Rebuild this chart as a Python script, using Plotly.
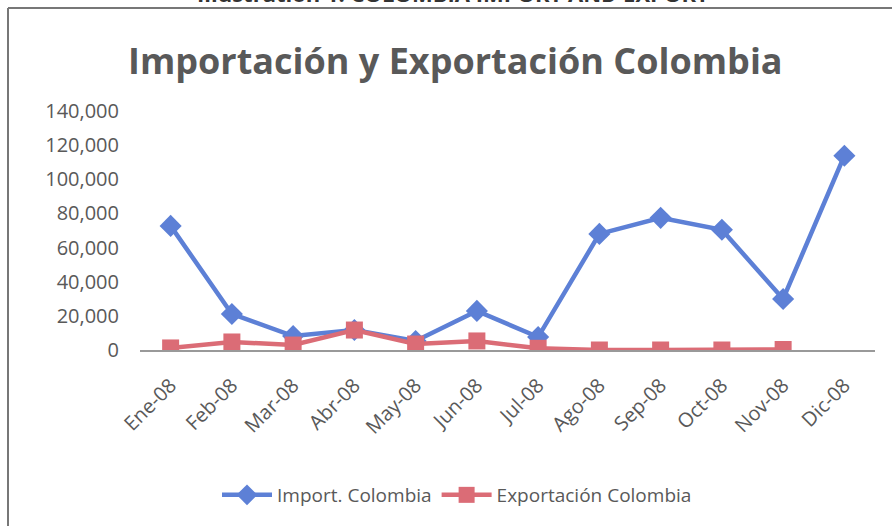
import plotly.graph_objects as go

months = ["Ene-08", "Feb-08", "Mar-08", "Abr-08", "May-08", "Jun-08",
          "Jul-08", "Ago-08", "Sep-08", "Oct-08", "Nov-08", "Dic-08"]
importacion = [72700, 21100, 8200, 11700, 5300, 22900, 7600, 68000, 77400, 70400, 29900, 113800]
exportacion = [1200, 4700, 2900, 11700, 3500, 5300, 1000, 0, 0, 0, 300, None]
y_ticks = [0, 20000, 40000, 60000, 80000, 100000, 120000, 140000]

W, H = 892, 526
L, R, T, B = 140, 17, 111, 176
pw, ph = W - L - R, H - T - B

def px(x):
    return (x - L) / pw

def py(y):
    return (H - B - y) / ph

blue = "rgb(93,128,214)"
red = "rgb(219,108,118)"
gray = "#595959"
font = "Open Sans"

fig = go.Figure()
fig.add_trace(go.Scatter(
    x=months, y=importacion, name="Import. Colombia", mode="lines+markers",
    line=dict(color=blue, width=4.5),
    marker=dict(symbol="diamond", size=17, color=blue),
))
fig.add_trace(go.Scatter(
    x=months, y=exportacion, name="Exportación Colombia", mode="lines+markers",
    line=dict(color=red, width=4.5),
    marker=dict(symbol="square", size=17, color=red),
))

fig.update_layout(
    width=W, height=H,
    margin=dict(l=L, r=R, t=T, b=B),
    paper_bgcolor="white", plot_bgcolor="white",
    font=dict(family=font, color=gray),
    showlegend=True,
    legend=dict(orientation="h", x=px(457), xanchor="center", y=py(495), yanchor="middle",
                font=dict(size=19, color=gray), itemwidth=50),
    xaxis=dict(range=[-0.5, 11.5], showgrid=False, showline=True, linecolor="#999999",
               linewidth=1.5, ticks="", tickangle=-45, tickfont=dict(size=20, color=gray),
               ticklabelstandoff=14, fixedrange=True),
    yaxis=dict(range=[0, 140000], tickvals=y_ticks, tickformat=",d", showgrid=False,
               zeroline=False, showline=False, ticks="", tickfont=dict(size=20, color=gray),
               ticklabelstandoff=20),
    annotations=[
        dict(text="<b>Importación y Exportación Colombia</b>", xref="paper", yref="paper",
             x=px(455), y=py(60), xanchor="center", yanchor="middle", showarrow=False,
             font=dict(size=36, color=gray, family=font)),
        dict(text="<b>Illustration 1: COLOMBIA IMPORT AND EXPORT</b>", xref="paper", yref="paper",
             x=px(453), y=py(10), xanchor="center", yanchor="bottom", showarrow=False,
             font=dict(size=22, color="#333333", family=font)),
    ],
    shapes=[
        dict(type="line", xref="paper", yref="paper", x0=px(8), x1=px(W + 5), y0=py(8), y1=py(8),
             line=dict(color="#777777", width=2)),
        dict(type="line", xref="paper", yref="paper", x0=px(8), x1=px(8), y0=py(8), y1=py(H + 5),
             line=dict(color="#777777", width=2)),
    ],
)

fig.write_html("out.html")
